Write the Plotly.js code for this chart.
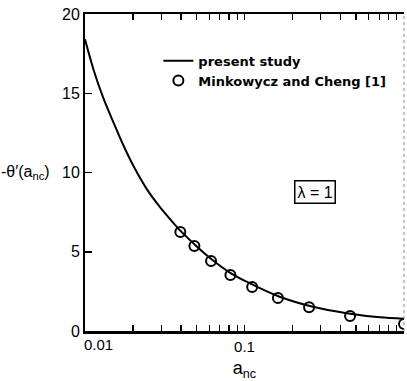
<!DOCTYPE html>
<html>
<head>
<meta charset="utf-8">
<script src="https://cdn.plot.ly/plotly-3.0.1.min.js"></script>
<style>html,body{margin:0;padding:0;background:#fff;}#chart{width:407px;height:381px;}</style>
</head>
<body>
<div id="chart"></div>
<script>
// present study (solid curve)
const curveX = [0.01, 0.0113, 0.0130, 0.0151, 0.0174, 0.0201, 0.0244, 0.0296, 0.0351, 0.0396, 0.05, 0.063, 0.08, 0.103, 0.166, 0.268, 0.438, 0.707, 1.0];
const curveY = [18.4, 16.5, 14.72, 13.15, 11.72, 10.42, 8.95, 7.80, 6.92, 6.33, 5.35, 4.48, 3.72, 3.11, 2.16, 1.53, 1.12, 0.86, 0.77];
// Minkowycz and Cheng [1] (open circles)
const refX = [0.0396, 0.0485, 0.0617, 0.0816, 0.1117, 0.162, 0.254, 0.459, 1.0];
const refY = [6.25, 5.36, 4.42, 3.53, 2.78, 2.08, 1.50, 0.95, 0.44];
// axis ticks
const xTickVals = [0.01,0.02,0.03,0.04,0.05,0.06,0.07,0.08,0.09,0.1,0.2,0.3,0.4,0.5,0.6,0.7,0.8,0.9,1];
const xTickText = ['','','','','','','','','','0.1','','','','','','','','',''];
const yTickVals = [0, 5, 10, 15, 20];
const yTickText = ['0', '5', '10', '15', '20'];
const seriesNames = ['present study', 'Minkowycz and Cheng [1]'];

const F = 'Liberation Sans, Arial, sans-serif';
const FL = 'DejaVu Sans, Liberation Sans, sans-serif';

const traces = [
  {x: curveX, y: curveY, type: 'scatter', mode: 'lines', name: seriesNames[0],
   line: {color: '#000', width: 2, shape: 'spline', smoothing: 0.8}},
  {x: refX, y: refY, type: 'scatter', mode: 'markers', name: seriesNames[1], cliponaxis: true,
   marker: {symbol: 'circle-open', size: 10, color: '#000', line: {width: 2, color: '#000'}}}
];

const layout = {
  width: 407, height: 381,
  margin: {l: 85, r: 3, t: 14, b: 50},
  paper_bgcolor: '#fff', plot_bgcolor: '#fff',
  font: {family: F, color: '#000', size: 15},
  showlegend: true,
  legend: {x: 0.23, y: 0.9, xanchor: 'left', yanchor: 'top', bgcolor: 'rgba(0,0,0,0)',
           font: {family: FL, size: 13, weight: 'bold'}, tracegroupgap: 0},
  xaxis: {type: 'log', range: [-2, 0], tickmode: 'array', tickvals: xTickVals, ticktext: xTickText,
          ticks: 'inside', ticklen: 6, tickwidth: 1.2, tickcolor: '#000',
          showline: true, linewidth: 2.5, linecolor: '#000', mirror: 'ticks',
          showgrid: false, zeroline: false, tickfont: {size: 15},
          title: {text: 'a<sub>nc</sub>', font: {size: 18}, standoff: 10}},
  yaxis: {range: [0, 20], tickmode: 'array', tickvals: yTickVals, ticktext: yTickText,
          ticks: 'inside', ticklen: 7, tickwidth: 1.5, tickcolor: '#000',
          showline: true, linewidth: 2, linecolor: '#000',
          showgrid: false, zeroline: false, tickfont: {size: 16}},
  shapes: [
    {type: 'line', xref: 'paper', yref: 'paper', x0: 1, x1: 1, y0: 0, y1: 1,
     line: {color: '#888', width: 1, dash: 'dot'}}
  ],
  annotations: [
    {text: '0.01', xref: 'x', yref: 'paper', x: -2, y: 0, xanchor: 'left', yanchor: 'top', yshift: -3, xshift: -3,
     showarrow: false, font: {size: 15}},
    {text: '-θ′(a<sub>nc</sub>)', xref: 'paper', yref: 'y', x: -0.27, y: 10, xanchor: 'left', yanchor: 'middle',
     showarrow: false, font: {size: 16}},
    {text: 'λ = 1', xref: 'paper', yref: 'paper', x: 0.72, y: 0.439, xanchor: 'center', yanchor: 'middle',
     showarrow: false, font: {size: 16}, bordercolor: '#000', borderwidth: 1.5, borderpad: 2}
  ]
};

Plotly.newPlot('chart', traces, layout, {displayModeBar: false, staticPlot: true});
</script>
</body>
</html>
